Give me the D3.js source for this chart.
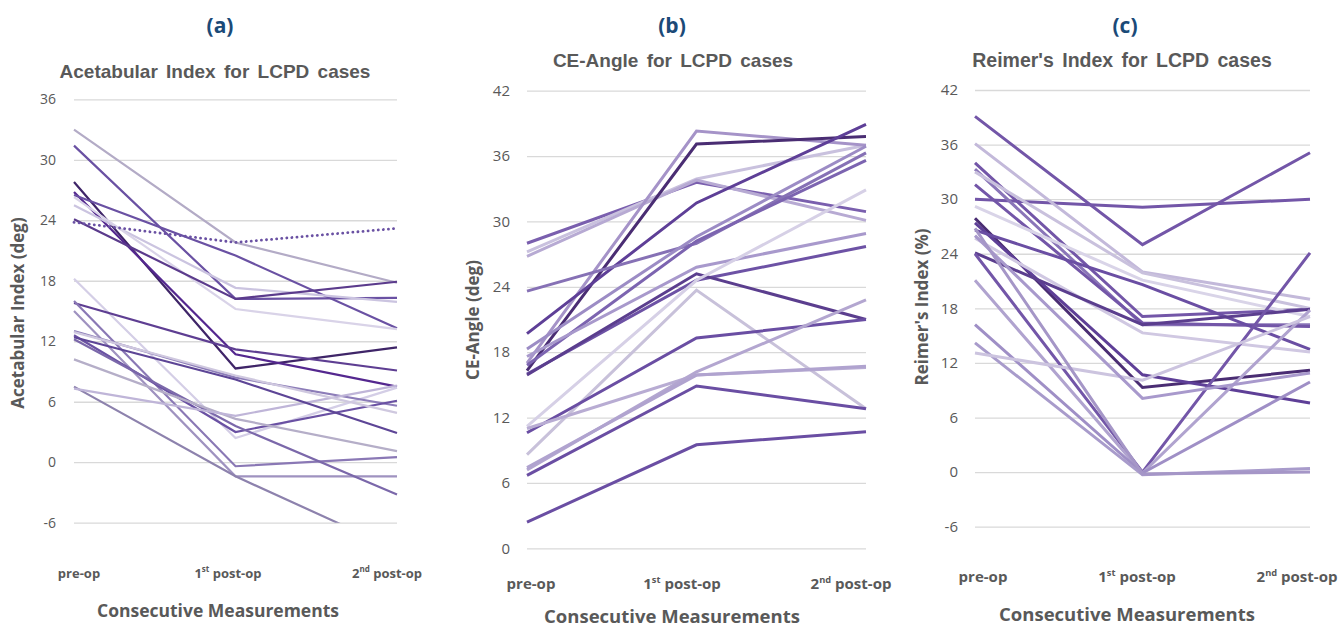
<!DOCTYPE html>
<html>
<head>
<meta charset="utf-8">
<script src="https://cdn.jsdelivr.net/npm/d3@7"></script>
<style>
  body { margin: 0; background: #fff; }
  text { font-family: "Open Sans", "Noto Sans", sans-serif; }
</style>
</head>
<body>
<script>
var stages = ["pre-op", "1st post-op", "2nd post-op"];

// (a) Acetabular Index, deg
var acetabular = [
  [33.0, 21.8, 17.8], [31.4, 16.2, 16.3], [27.8, 9.3, 11.4], [26.8, 10.7, 7.5],
  [26.5, 20.5, 13.3], [25.5, 17.3, 15.9], [26.3, 15.2, 13.2], [24.1, 16.2, 17.9],
  [23.8, 21.8, 23.2], [18.2, 2.4, 7.4], [15.8, 11.2, 9.1], [16.0, -0.4, 0.5],
  [15.0, -1.4, -1.4], [13.0, 8.4, 5.6], [12.6, 3.0, 6.1], [12.2, 3.6, -3.2],
  [10.2, 4.3, 1.1], [7.5, -1.4, -8.7], [7.3, 4.6, 7.6], [12.4, 8.2, 2.9], [12.9, 8.6, 4.9]
];
var acetabularDotted = 8;

// (b) CE-Angle, deg
var ceAngle = [
  [28.0, 33.6, 30.9], [27.2, 33.9, 37.0], [26.8, 33.8, 30.1], [17.0, 38.3, 37.0],
  [16.3, 37.1, 37.8], [19.7, 31.7, 38.9], [23.6, 28.0, 36.3], [18.3, 28.6, 36.9],
  [16.8, 28.2, 35.6], [17.6, 25.8, 28.9], [16.0, 24.6, 27.7], [15.9, 25.2, 21.0],
  [11.2, 24.6, 32.9], [8.6, 23.7, 12.8], [10.6, 19.3, 21.0], [11.0, 15.9, 16.6],
  [7.2, 16.2, 22.8], [6.7, 14.9, 12.8], [2.4, 9.5, 10.7], [7.4, 15.9, 16.7]
];

// (c) Reimer's Index, %
var reimer = [
  [39.1, 25.0, 35.1], [30.0, 29.1, 30.0], [36.1, 22.0, 19.0], [34.0, 17.1, 17.9],
  [33.3, 16.2, 16.2], [33.0, 21.9, 18.0], [31.6, 16.4, 16.0], [29.2, 21.1, 17.1],
  [27.9, 9.3, 11.2], [27.4, 10.7, 7.6], [26.6, 20.6, 13.5], [25.7, 15.3, 13.2],
  [24.1, 16.2, 17.9], [24.0, 0.0, 24.1], [21.1, -0.1, 17.8], [16.2, -0.1, 9.9],
  [14.2, -0.3, 0.4], [13.1, 10.1, 17.1], [26.0, 8.1, 10.9], [26.8, -0.2, 0.0]
];

var ticksA = [-6, 0, 6, 12, 18, 24, 30, 36];
var ticksB = [0, 6, 12, 18, 24, 30, 36, 42];
var ticksC = [-6, 0, 6, 12, 18, 24, 30, 36, 42];

var colorsA = ["#b3abc6", "#6a51a3", "#3f2568", "#54278f", "#6a51a3", "#cbc4e0", "#d9d3e8",
  "#5b3b8c", "#6a51a3", "#d4cee6", "#5e3e92", "#8a78b5", "#9f92c0", "#8c7cb8", "#6a51a3",
  "#7b68aa", "#b5aec8", "#8d82ad", "#bfb5d8", "#5d4596", "#cfc8df"];
var colorsB = ["#7a5fae", "#c9c1de", "#b7aad3", "#a593c8", "#4a2d73", "#5e3f97", "#8671b5",
  "#9c8cc5", "#7c64b0", "#a899cc", "#6d52a5", "#5b3e8e", "#d6d0e6", "#c8c1da", "#6a4ea3",
  "#b8acd3", "#b3a6d0", "#6a4ea3", "#6a4ea3", "#b0a3cf"];
var colorsC = ["#7356a8", "#7356a8", "#c3b9da", "#7356a8", "#8a75b8", "#c9c1dd", "#7356a8",
  "#d9d4e8", "#4a2d73", "#5e3f97", "#6a4ea3", "#d0c8e2", "#5b3e8e", "#7356a8", "#b0a3cf",
  "#9f8fc6", "#a89bcb", "#ccc4df", "#a899cc", "#a596c7"];

var svg = d3.select("body").append("svg")
    .attr("width", 1344)
    .attr("height", 627);

function drawPanel(p) {
  var g = svg.append("g");

  var x = d3.scalePoint().domain(stages).range([p.x0, p.x1]);
  var y = d3.scaleLinear().domain([p.ymin, p.ymax]).range([p.y0, p.y1]);

  // gridlines + tick labels
  var axis = g.append("g")
      .attr("transform", "translate(" + p.x0 + ",0)")
      .call(d3.axisLeft(y).tickValues(p.ticks).tickFormat(function(d) { return String(d); })
        .tickSize(-(p.x1 - p.x0)).tickPadding(p.pad));
  axis.select(".domain").remove();
  axis.selectAll(".tick line").attr("stroke", "#d9d9d9").attr("stroke-width", 1.3);
  axis.selectAll(".tick text")
      .attr("fill", "#595959")
      .style("font-family", "'Open Sans', sans-serif")
      .style("font-size", p.tickSize + "px");

  var clipId = "clip" + p.id;
  svg.append("clipPath").attr("id", clipId)
    .append("rect")
      .attr("x", p.x0 - 5).attr("y", y(p.ymax) - 5)
      .attr("width", p.x1 - p.x0 + 10).attr("height", y(p.ymin) - y(p.ymax) + 5);

  var line = d3.line()
      .x(function(d, i) { return x(stages[i]); })
      .y(function(d) { return y(d); });

  g.append("g")
      .attr("clip-path", "url(#" + clipId + ")")
    .selectAll("path")
    .data(p.data)
    .enter().append("path")
      .attr("d", line)
      .attr("fill", "none")
      .attr("stroke", function(d, i) { return p.colors[i]; })
      .attr("stroke-width", function(d, i) { return i === p.dotted ? p.lw + 0.6 : p.lw; })
      .attr("stroke-linejoin", "miter")
      .attr("stroke-dasharray", function(d, i) { return i === p.dotted ? "0.1,5" : null; })
      .attr("stroke-linecap", function(d, i) { return i === p.dotted ? "round" : "butt"; });

  // panel letter
  g.append("text")
      .attr("x", p.letterX).attr("y", 33)
      .attr("text-anchor", "middle")
      .attr("fill", "#1b4a78")
      .style("font-family", "'Open Sans', sans-serif")
      .style("font-weight", "bold")
      .style("font-size", "21px")
      .text(p.letter);

  // chart title
  g.append("text")
      .attr("x", p.titleX).attr("y", p.titleY)
      .attr("text-anchor", "middle")
      .attr("fill", "#595959")
      .style("font-family", "'Liberation Sans', Arial, sans-serif")
      .style("font-weight", "bold")
      .style("font-size", p.titleSize + "px")
      .style("word-spacing", "3px")
      .text(p.title);

  // y axis title
  g.append("text")
      .attr("transform", "translate(" + p.yTitleX + "," + p.yTitleY + ") rotate(-90)")
      .attr("text-anchor", "middle")
      .attr("fill", "#595959")
      .style("font-family", "'Open Sans', sans-serif")
      .style("font-weight", "bold")
      .style("font-size", p.yTitleSize + "px")
      .text(p.yTitle);

  // category labels
  var sups = ["", "st", "nd"];
  var heads = ["pre-op", "1", "2"];
  var tails = ["", " post-op", " post-op"];
  stages.forEach(function(s, i) {
    var t = g.append("text")
        .attr("x", p.labX[i]).attr("y", p.labY)
        .attr("text-anchor", "middle")
        .attr("fill", "#595959")
        .style("font-family", "'Open Sans', sans-serif")
        .style("font-weight", "bold")
        .style("font-size", p.labSize + "px");
    t.append("tspan").text(heads[i]);
    if (sups[i]) {
      t.append("tspan").attr("dy", -6).style("font-size", (p.labSize * 0.62) + "px").text(sups[i]);
      t.append("tspan").attr("dy", 6).text(tails[i]);
    }
  });

  g.append("text")
      .attr("x", p.xTitleX).attr("y", p.xTitleY)
      .attr("text-anchor", "middle")
      .attr("fill", "#595959")
      .style("font-family", "'Open Sans', sans-serif")
      .style("font-weight", "bold")
      .style("font-size", p.xTitleSize + "px")
      .text("Consecutive Measurements");
}

drawPanel({
  id: "a", data: acetabular, colors: colorsA, dotted: acetabularDotted, lw: 2.2,
  x0: 74, x1: 397, y0: 522.7, y1: 99.3, ymin: -6, ymax: 36, ticks: ticksA, pad: 18, tickSize: 14,
  letter: "(a)", letterX: 220, title: "Acetabular Index for LCPD cases", titleX: 215, titleY: 78, titleSize: 19,
  yTitle: "Acetabular Index (deg)", yTitleX: 24, yTitleY: 313, yTitleSize: 17,
  labX: [79, 228, 387], labY: 578, labSize: 13, xTitleX: 218, xTitleY: 617, xTitleSize: 17.5
});

drawPanel({
  id: "b", data: ceAngle, colors: colorsB, lw: 3,
  x0: 527, x1: 866, y0: 548.3, y1: 90.7, ymin: 0, ymax: 42, ticks: ticksB, pad: 17, tickSize: 15,
  letter: "(b)", letterX: 672, title: "CE-Angle for LCPD cases", titleX: 673, titleY: 67, titleSize: 19,
  yTitle: "CE-Angle (deg)", yTitleX: 479, yTitleY: 320, yTitleSize: 17,
  labX: [531, 682, 851], labY: 589, labSize: 15, xTitleX: 672, xTitleY: 623, xTitleSize: 18.5
});

drawPanel({
  id: "c", data: reimer, colors: colorsC, lw: 3,
  x0: 975, x1: 1310, y0: 526.7, y1: 90, ymin: -6, ymax: 42, ticks: ticksC, pad: 17, tickSize: 15,
  letter: "(c)", letterX: 1125, title: "Reimer's Index for LCPD cases", titleX: 1122, titleY: 67, titleSize: 19.5,
  yTitle: "Reimer's Index (%)", yTitleX: 928, yTitleY: 307, yTitleSize: 17,
  labX: [983, 1137, 1297], labY: 582, labSize: 15, xTitleX: 1127, xTitleY: 621, xTitleSize: 18.5
});
</script>
</body>
</html>
